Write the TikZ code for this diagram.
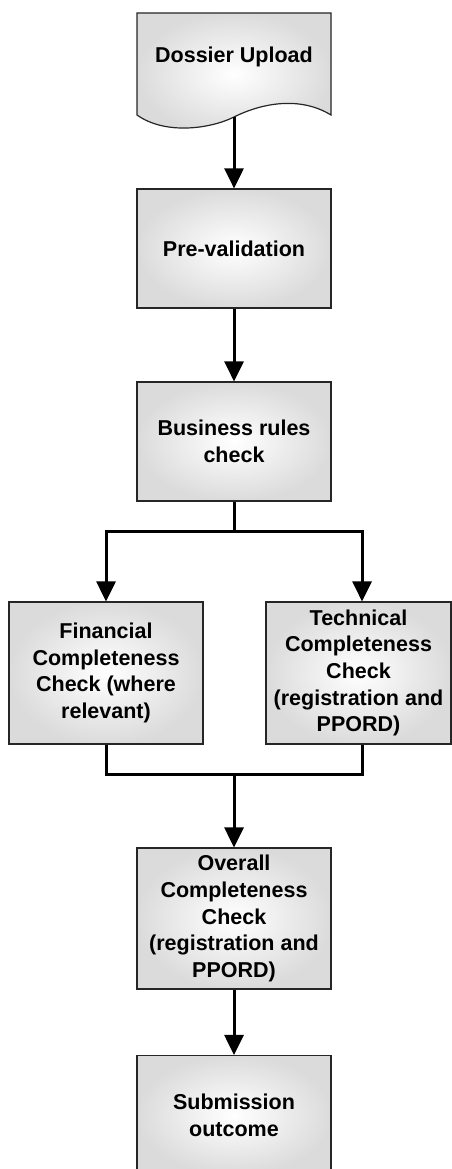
\documentclass[tikz,border=0pt]{standalone}
\usepackage{fontspec}
\setmainfont{Liberation Sans}
\usetikzlibrary{arrows.meta}
\begin{document}
\begin{tikzpicture}[x=1pt,y=1pt,
  txt/.style={align=center, font=\bfseries\fontsize{21.5}{26.7}\selectfont},
  shapefill/.style={draw=black!85, line width=1.2pt, inner color=white, outer color=gray!28},
  box/.style={shapefill, txt, minimum width=194pt, minimum height=119pt, inner sep=2pt},
  conn/.style={line width=3pt, -{Triangle[length=20pt,width=19pt]}},
  plainline/.style={line width=3pt}]
\useasboundingbox (0,0) rectangle (452,-1169);
% document shape
\path[shapefill] (137,-13) -- (331,-13) -- (331,-115)
  .. controls (300,-96) and (262,-103) .. (234,-117)
  .. controls (210,-129) and (165,-135) .. (137,-115) -- cycle;
\node[txt] (dossier) at (234,-57) {Dossier Upload};
\coordinate (dossierout) at (234,-117);
\node[box] (preval) at (234,-248.5) {Pre-validation};
\node[box] (business) at (234,-441.5) {Business rules\\check};
\node[box, minimum height=142pt] (financial) at (106,-673) {Financial\\Completeness\\Check (where\\relevant)};
\node[box, minimum width=185pt, minimum height=142pt] (technical) at (358.5,-673) {Technical\\Completeness\\Check\\(registration and\\PPORD)};
\node[box, minimum height=141pt] (overall) at (234,-918.5) {Overall\\Completeness\\Check\\(registration and\\PPORD)};
\node[box] (submission) at (234,-1115) {Submission\\outcome};
% connectors
\coordinate (split) at (234,-531);
\coordinate (splitL) at (106,-531);
\coordinate (splitR) at (362,-531);
\coordinate (merge) at (234,-774);
\coordinate (mergeL) at (106,-774);
\coordinate (mergeR) at (362,-774);
\draw[conn] (dossierout) -- (preval.north);
\draw[conn] (preval.south) -- (business.north);
\draw[plainline] (business.south) -- (split);
\draw[conn] (split) -- (splitL) -- (financial.north);
\draw[conn] (split) -- (splitR) -- (technical.north -| splitR);
\draw[plainline] (financial.south) -- (mergeL) -- (mergeR) -- (technical.south -| mergeR);
\draw[conn] (merge) -- (overall.north);
\draw[conn] (overall.south) -- (submission.north);
\end{tikzpicture}
\end{document}
